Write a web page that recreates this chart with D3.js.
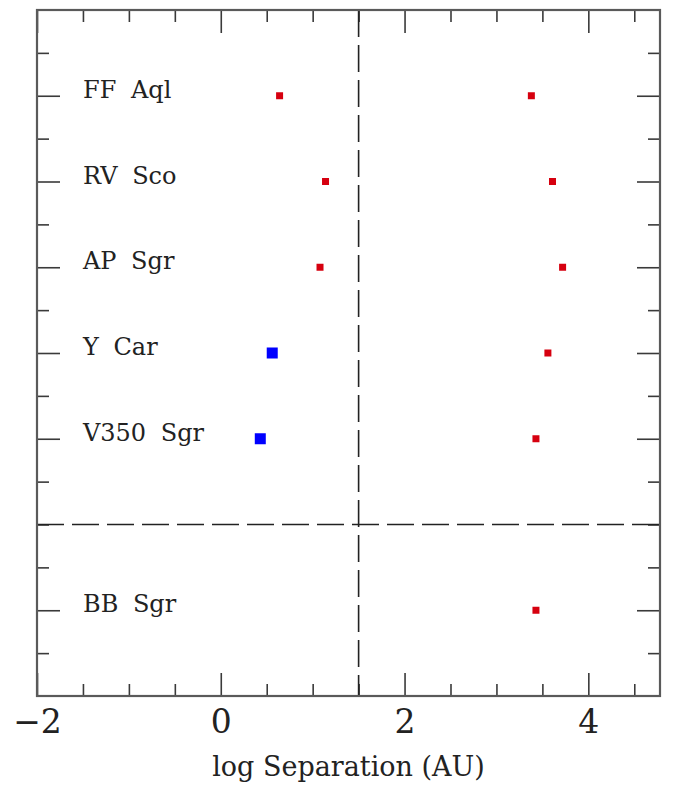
<!DOCTYPE html>
<html>
<head>
<meta charset="utf-8">
<script src="https://cdn.jsdelivr.net/npm/d3@7"></script>
<style>
  html, body { margin: 0; padding: 0; background: #fff; }
  svg { display: block; }
  text { font-family: "DejaVu Serif", "Liberation Serif", serif; fill: #222; }
</style>
</head>
<body>
<svg id="chart" width="673" height="785"></svg>
<script>
// Star names, one per row from the top
const stars = ["FF Aql", "RV Sco", "AP Sgr", "Y Car", "V350 Sgr", "BB Sgr"];
// Row index (y units from the top) for each star
const rows = [1, 2, 3, 4, 5, 7];
// Inner companions (blue) — log separation in AU
const innerStars = ["Y Car", "V350 Sgr"];
const innerSep = [0.56, 0.43];
// Companion separations (red) — log separation in AU
const redStars = ["FF Aql", "FF Aql", "RV Sco", "RV Sco", "AP Sgr", "AP Sgr", "Y Car", "V350 Sgr", "BB Sgr"];
const redSep = [0.64, 3.38, 1.14, 3.61, 1.08, 3.72, 3.56, 3.43, 3.43];
// Axis ticks and reference lines
const xMajorTicks = [-2, 0, 2, 4];
const xMinorTicks = [-1.5, -1, -0.5, 0.5, 1, 1.5, 2.5, 3, 3.5, 4.5];
const yMinorTicks = [0.5, 1.5, 2.5, 3.5, 4.5, 5.5, 6, 6.5, 7.5];
const xDomain = [-2, 4.78];
const yDomain = [0, 8];
const vLine = 1.5;
const hLine = 6;

const svg = d3.select("#chart");
const plotLeft = 37, plotRight = 660, plotTop = 10, plotBottom = 696;

const x = d3.scaleLinear().domain(xDomain).range([plotLeft, plotRight]);
const y = d3.scaleLinear().domain(yDomain).range([plotTop, plotBottom]);
const rowOf = name => rows[stars.indexOf(name)];

const frameColor = "#5a5a5a";
const majorLen = 23, minorLen = 12;

function styleAxis(g) {
  g.select(".domain").remove();
  g.selectAll(".tick line").attr("stroke", "#3a3a3a").attr("stroke-width", 1.6);
}

// Bottom axis: labelled major ticks plus minor ticks
svg.append("g")
  .attr("transform", `translate(0,${plotBottom})`)
  .call(d3.axisBottom(x).tickValues(xMajorTicks).tickSize(-majorLen).tickPadding(14)
    .tickFormat(d3.format("d")))
  .call(styleAxis)
  .call(g => g.selectAll(".tick text")
    .attr("font-size", 33).attr("fill", "#222")
    .style("font-family", '"DejaVu Serif", serif'));
svg.append("g")
  .attr("transform", `translate(0,${plotBottom})`)
  .call(d3.axisBottom(x).tickValues(xMinorTicks).tickSize(-minorLen).tickFormat(""))
  .call(styleAxis);

// Top axis: ticks only
svg.append("g")
  .attr("transform", `translate(0,${plotTop})`)
  .call(d3.axisTop(x).tickValues(xMajorTicks).tickSize(-majorLen).tickFormat(""))
  .call(styleAxis);
svg.append("g")
  .attr("transform", `translate(0,${plotTop})`)
  .call(d3.axisTop(x).tickValues(xMinorTicks).tickSize(-minorLen).tickFormat(""))
  .call(styleAxis);

// Left and right axes: long ticks at the star rows, short ticks between
[[d3.axisLeft, plotLeft], [d3.axisRight, plotRight]].forEach(([axisFn, pos]) => {
  svg.append("g")
    .attr("transform", `translate(${pos},0)`)
    .call(axisFn(y).tickValues(rows).tickSize(-majorLen).tickFormat(""))
    .call(styleAxis);
  svg.append("g")
    .attr("transform", `translate(${pos},0)`)
    .call(axisFn(y).tickValues(yMinorTicks).tickSize(-minorLen).tickFormat(""))
    .call(styleAxis);
});

// Dashed reference lines
svg.append("line")
  .attr("x1", x(vLine)).attr("x2", x(vLine))
  .attr("y1", y(yDomain[0])).attr("y2", y(yDomain[1]))
  .attr("stroke", "#222").attr("stroke-width", 1.6)
  .attr("stroke-dasharray", "27,8");
svg.append("line")
  .attr("x1", x(xDomain[0])).attr("x2", x(xDomain[1]))
  .attr("y1", y(hLine)).attr("y2", y(hLine))
  .attr("stroke", "#222").attr("stroke-width", 1.6)
  .attr("stroke-dasharray", "27,8");

// Frame
svg.append("rect")
  .attr("x", plotLeft).attr("y", plotTop)
  .attr("width", plotRight - plotLeft).attr("height", plotBottom - plotTop)
  .attr("fill", "none").attr("stroke", frameColor).attr("stroke-width", 2.2);

// Star name labels
svg.append("g").selectAll("text")
  .data(stars)
  .join("text")
  .attr("x", 83)
  .attr("y", (d, i) => y(rows[i]) + 2)
  .attr("font-size", 24)
  .attr("word-spacing", 7)
  .text(d => d);

// Red companion markers
const redSize = 7;
svg.append("g").selectAll("rect")
  .data(redSep)
  .join("rect")
  .attr("x", d => x(d) - redSize / 2)
  .attr("y", (d, i) => y(rowOf(redStars[i])) - redSize / 2)
  .attr("width", redSize).attr("height", redSize)
  .attr("fill", "#d6000f");

// Blue inner markers
const blueSize = 11;
svg.append("g").selectAll("rect")
  .data(innerSep)
  .join("rect")
  .attr("x", d => x(d) - blueSize / 2)
  .attr("y", (d, i) => y(rowOf(innerStars[i])) - blueSize / 2)
  .attr("width", blueSize).attr("height", blueSize)
  .attr("fill", "#0000ff");

// Axis title
svg.append("text")
  .attr("x", (plotLeft + plotRight) / 2)
  .attr("y", 776)
  .attr("text-anchor", "middle")
  .attr("font-size", 27)
  .text("log Separation (AU)");
</script>
</body>
</html>
